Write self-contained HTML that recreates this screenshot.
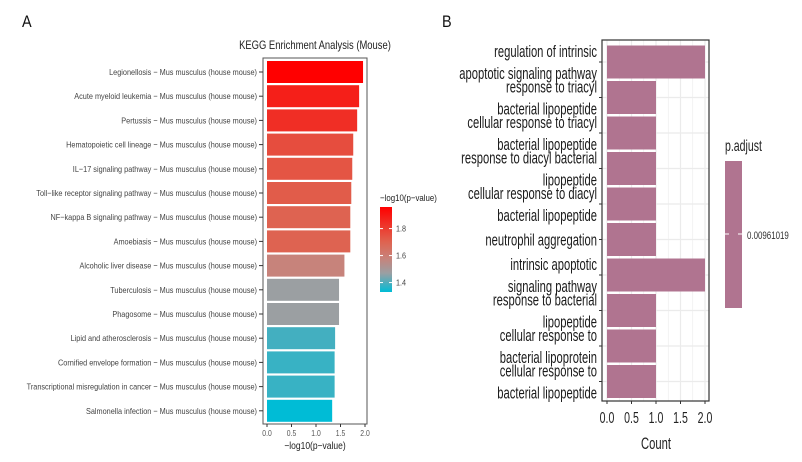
<!DOCTYPE html>
<html><head><meta charset="utf-8"><style>
body{margin:0;background:#fff}
svg{display:block}
text{font-family:"Liberation Sans",sans-serif}
</style></head><body>
<svg id="chart" width="802" height="462" viewBox="0 0 802 462" xmlns="http://www.w3.org/2000/svg">
<rect width="802" height="462" fill="#fff"/>
<text x="22" y="27" font-size="17" fill="#111" transform="translate(22,27) scale(0.85,1) translate(-22,-27)">A</text>
<text x="442" y="27" font-size="17" fill="#111" transform="translate(442,27) scale(0.85,1) translate(-442,-27)">B</text>
<text x="315" y="49" font-size="11.5" text-anchor="middle" fill="#222" transform="translate(315,49) scale(0.82,1) translate(-315,-49)">KEGG Enrichment Analysis (Mouse)</text>
<g id="left"></g>
<g id="right"></g>
<defs><linearGradient id="cbar" x1="0" y1="1" x2="0" y2="0">
<stop offset="0" stop-color="#00BCD6"/><stop offset="0.22" stop-color="#9A9FA3"/><stop offset="0.4" stop-color="#C8827A"/><stop offset="0.6" stop-color="#E0614E"/><stop offset="1" stop-color="#FF0000"/>
</linearGradient></defs>
</svg>
<script>
const keggTerms=["Legionellosis","Acute myeloid leukemia","Pertussis","Hematopoietic cell lineage","IL−17 signaling pathway","Toll−like receptor signaling pathway","NF−kappa B signaling pathway","Amoebiasis","Alcoholic liver disease","Tuberculosis","Phagosome","Lipid and atherosclerosis","Cornified envelope formation","Transcriptional misregulation in cancer","Salmonella infection"];
const keggValues=[1.96,1.88,1.84,1.76,1.74,1.72,1.70,1.70,1.58,1.47,1.47,1.39,1.38,1.38,1.33];
const keggTicks=[0,0.5,1,1.5,2];
const legendTicks=[1.4,1.6,1.8];
const goTerms=[["regulation of intrinsic","apoptotic signaling pathway"],["response to triacyl","bacterial lipopeptide"],["cellular response to triacyl","bacterial lipopeptide"],["response to diacyl bacterial","lipopeptide"],["cellular response to diacyl","bacterial lipopeptide"],["neutrophil aggregation"],["intrinsic apoptotic","signaling pathway"],["response to bacterial","lipopeptide"],["cellular response to","bacterial lipoprotein"],["cellular response to","bacterial lipopeptide"]];
const goCounts=[2,1,1,1,1,1,2,1,1,1];
const goTicks=[0,0.5,1,1.5,2];
const NS="http://www.w3.org/2000/svg";
function mk(parent,tag,attrs,txt){const e=document.createElementNS(NS,tag);for(const k in attrs)e.setAttribute(k,attrs[k]);if(txt!==undefined)e.textContent=txt;parent.appendChild(e);return e;}
function tx(parent,x,y,sx,attrs,txt){const e=mk(parent,'text',Object.assign({x:0,y:0,transform:`translate(${x},${y}) scale(${sx},1)`},attrs),txt);return e;}
// left
const L=document.getElementById('left');
const lx=v=>267+v*49;
const ly=i=>72+i*24.2;
const vmin=Math.min(...keggValues),vmax=Math.max(...keggValues);
const stops=[[0,[0,188,214]],[0.22,[154,159,163]],[0.4,[200,130,122]],[0.6,[224,97,78]],[1,[255,0,0]]];
function col(v){let t=(v-vmin)/(vmax-vmin);t=Math.max(0,Math.min(1,t));for(let i=1;i<stops.length;i++){if(t<=stops[i][0]){const a=stops[i-1],b=stops[i];const f=(t-a[0])/(b[0]-a[0]);const c=a[1].map((x,j)=>Math.round(x+(b[1][j]-x)*f));return `rgb(${c})`;}}return 'rgb(255,0,0)';}
const lframe=mk(L,'rect',{x:263,y:58,width:104,height:366,fill:'#fff',stroke:'#555','stroke-width':1});


keggValues.forEach((v,i)=>{
 const r=mk(L,'rect',{x:lx(0),y:ly(i)-11,width:lx(v)-lx(0),height:22,fill:col(v)});
 
 
 mk(L,'line',{x1:259,x2:263,y1:ly(i),y2:ly(i),stroke:'#333'});
 const t=tx(L,257,ly(i)+3,0.85,{'font-size':8.6,'text-anchor':'end',fill:'#444'},keggTerms[i]+' − Mus musculus (house mouse)');
 
 
});
keggTicks.forEach(v=>{
 mk(L,'line',{x1:lx(v),x2:lx(v),y1:424,y2:427,stroke:'#333'});
 const t=tx(L,lx(v),436,0.85,{'font-size':8,'text-anchor':'middle',fill:'#555'},v.toFixed(1));
 
 
});
const lxt=tx(L,315,449,0.85,{'font-size':10,'text-anchor':'middle',fill:'#222'},'−log10(p−value)');


const lgt=tx(L,380,201,0.83,{'font-size':9.5,fill:'#222'},'−log10(p−value)');


const cy=v=>292-(v-vmin)/(vmax-vmin)*85;
const cb=mk(L,'rect',{x:380,y:cy(vmax),width:12,height:cy(vmin)-cy(vmax),fill:'url(#cbar)'});


legendTicks.forEach(v=>{
 mk(L,'line',{x1:380,x2:383,y1:cy(v),y2:cy(v),stroke:'#fff'});
 mk(L,'line',{x1:389,x2:392,y1:cy(v),y2:cy(v),stroke:'#fff'});
 const t=tx(L,396,cy(v)+3,0.85,{'font-size':8.5,fill:'#444'},v.toFixed(1));
 
 
});
// right
const R=document.getElementById('right');
const rx=v=>607+v*49;
const ry=i=>62+i*35.5;
for(let v=0;v<=2.0001;v+=0.25){mk(R,'line',{x1:rx(v),x2:rx(v),y1:40,y2:401,stroke:'#ebebeb','stroke-width':(Math.abs(v*2-Math.round(v*2))<0.01)?1.2:0.6});}
goCounts.forEach((c,i)=>mk(R,'line',{x1:602,x2:709,y1:ry(i),y2:ry(i),stroke:'#ebebeb','stroke-width':1.2}));
goCounts.forEach((c,i)=>{
 const r=mk(R,'rect',{x:rx(0),y:ry(i)-16.5,width:rx(c)-rx(0),height:33,fill:'#B07490'});
 
 
 mk(R,'line',{x1:599,x2:602,y1:ry(i),y2:ry(i),stroke:'#333'});
 const lines=goTerms[i];
 lines.forEach((s,k)=>{
  const off=lines.length===1?0:(k===0?-11:11);
  const t=tx(R,597,ry(i)+off+6,0.66,{'font-size':17,'text-anchor':'end',fill:'#1a1a1a'},s);
  
  
 });
});
mk(R,'rect',{x:602,y:40,width:107,height:361,fill:'none',stroke:'#333','stroke-width':1.2});
goTicks.forEach(v=>{
 mk(R,'line',{x1:rx(v),x2:rx(v),y1:401,y2:404,stroke:'#333'});
 const t=tx(R,rx(v),423,0.66,{'font-size':16,'text-anchor':'middle',fill:'#222'},v.toFixed(1));
 
 
});
const rxt=tx(R,656,449,0.66,{'font-size':17,'text-anchor':'middle',fill:'#222'},'Count');


const pt=tx(R,725,151,0.66,{'font-size':16,fill:'#222'},'p.adjust');


const pb=mk(R,'rect',{x:725,y:161,width:17,height:147,fill:'#B07490'});


mk(R,'line',{x1:725,x2:729,y1:234,y2:234,stroke:'#fff'});
mk(R,'line',{x1:738,x2:742,y1:234,y2:234,stroke:'#fff'});
const pl=tx(R,747,239,0.72,{'font-size':11,fill:'#333'},'0.00961019');


</script>
</body></html>
